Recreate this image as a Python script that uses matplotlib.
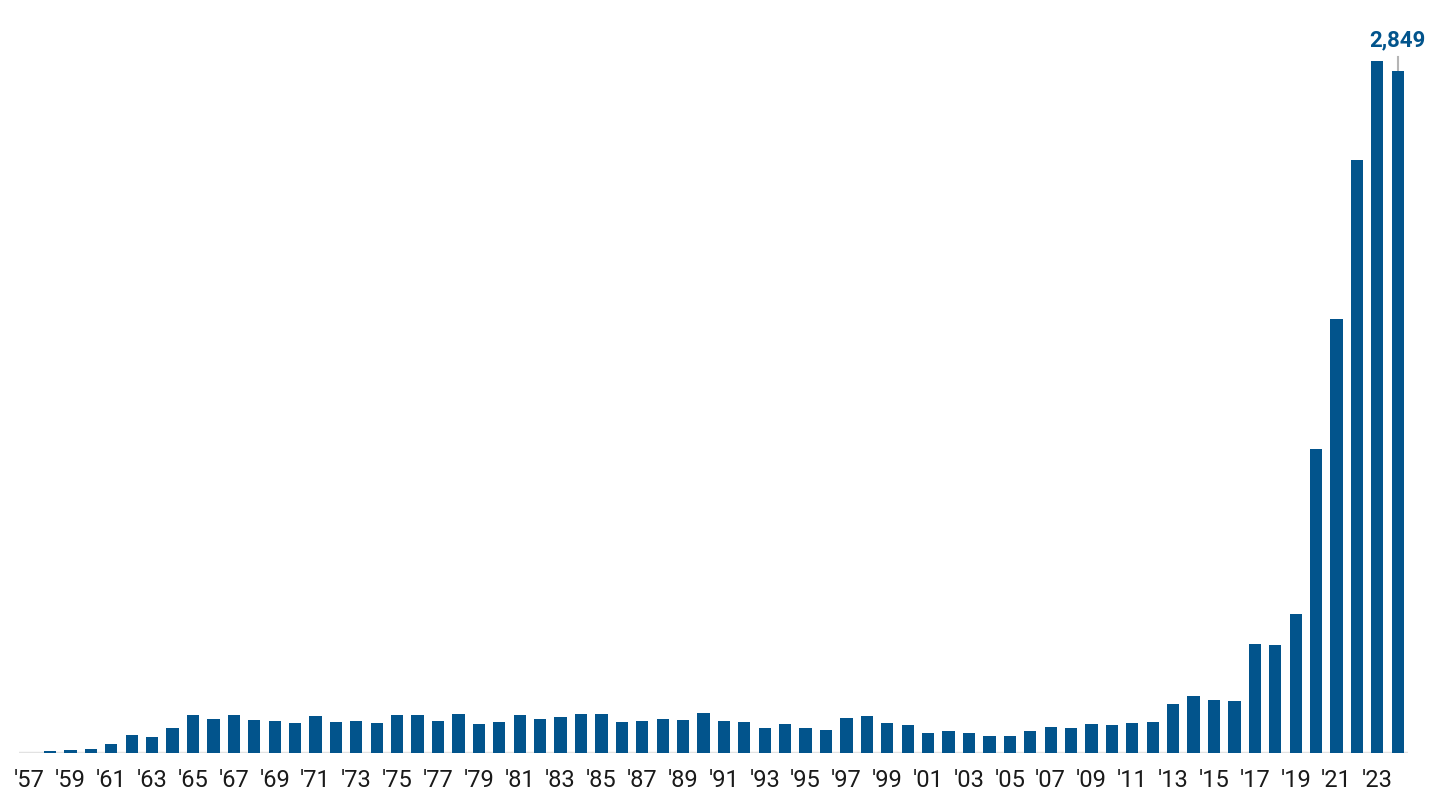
import numpy as np
import matplotlib.pyplot as plt

# Annual values, 1957-2024
years = list(range(1957, 2025))
values = [2, 8, 12, 20, 37, 76, 69, 106, 160, 145,
          159, 139, 136, 128, 156, 132, 136, 127, 159, 159,
          135, 163, 121, 129, 160, 145, 153, 163, 163, 132,
          135, 145, 138, 167, 135, 129, 107, 122, 104, 99,
          149, 156, 127, 119, 84, 93, 86, 73, 71, 93,
          109, 106, 124, 118, 127, 132, 207, 238, 221, 218,
          455, 451, 583, 1272, 1812, 2477, 2892, 2849]
tick_years = list(range(1957, 2025, 2))
tick_labels = ["'" + str(y)[2:] for y in tick_years]

BLUE = '#02548c'

def main():
    plt.rcParams['font.family'] = ['Roboto', 'DejaVu Sans']

    fig = plt.figure(figsize=(14.4, 8.05), dpi=100)
    ax = fig.add_axes([19.4 / 1440, 51.7 / 805, 1388.6 / 1440, 718.5 / 805])

    ax.bar(years, values, width=0.6, color=BLUE, zorder=2)

    ax.set_xlim(1956.5, 2024.5)
    ax.set_ylim(0, 3000)

    # baseline
    ax.axhline(0, color='#e2e2e2', lw=2.5, zorder=1)

    for s in ax.spines.values():
        s.set_visible(False)
    ax.set_yticks([])
    ax.set_xticks(tick_years)
    ax.set_xticklabels(tick_labels, fontsize=17, color='#1a1a1a')
    ax.tick_params(axis='x', length=0, pad=11)

    # callout for the last value
    last_year, last_val = years[-1], values[-1]
    ax.plot([last_year, last_year], [last_val, 2907], color='#b5b5b5', lw=1.5, zorder=1)
    ax.text(last_year, 2930, f'{last_val:,}', ha='center', va='bottom',
            fontsize=16, fontweight='bold', color=BLUE)

    fig.savefig('out.png', dpi=100)

if __name__ == "__main__":
    main()
